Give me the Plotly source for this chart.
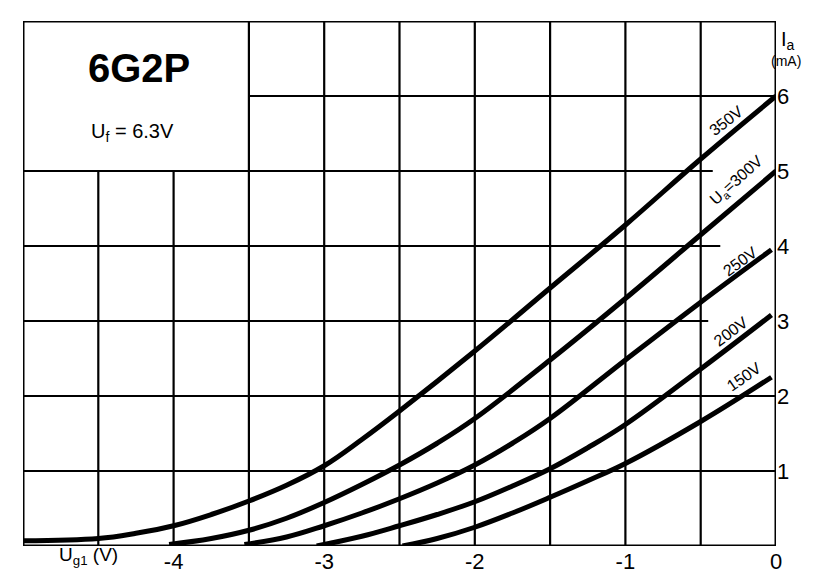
import plotly.graph_objects as go

# Grid voltage (V) and anode current (mA) for each anode voltage
vg_350 = [-5.0, -4.5, -4.25, -4.0, -3.75, -3.5, -3.25, -3.0, -2.75, -2.5, -2.0, -1.5, -1.0, -0.5, 0.0]
ia_350 = [0.07, 0.10, 0.17, 0.27, 0.42, 0.60, 0.81, 1.07, 1.42, 1.80, 2.60, 3.44, 4.28, 5.16, 6.00]

vg_300 = [-4.03, -3.75, -3.5, -3.25, -3.0, -2.75, -2.5, -2.25, -2.0, -1.5, -1.0, -0.5, 0.0]
ia_300 = [0.02, 0.10, 0.21, 0.37, 0.58, 0.82, 1.08, 1.37, 1.70, 2.48, 3.30, 4.15, 5.00]

vg_250 = [-3.53, -3.25, -3.0, -2.75, -2.5, -2.25, -2.0, -1.75, -1.5, -1.0, -0.5, -0.03]
ia_250 = [0.02, 0.12, 0.27, 0.44, 0.63, 0.84, 1.08, 1.37, 1.70, 2.48, 3.25, 3.95]

vg_200 = [-3.05, -2.75, -2.5, -2.25, -2.0, -1.75, -1.5, -1.25, -1.0, -0.5, -0.03]
ia_200 = [0.00, 0.13, 0.27, 0.42, 0.59, 0.80, 1.03, 1.31, 1.62, 2.36, 3.08]

vg_150 = [-2.48, -2.25, -2.0, -1.75, -1.5, -1.25, -1.0, -0.5, -0.03]
ia_150 = [0.00, 0.10, 0.25, 0.44, 0.65, 0.87, 1.10, 1.66, 2.25]

series = [
    ("350V", vg_350, ia_350),
    ("300V", vg_300, ia_300),
    ("250V", vg_250, ia_250),
    ("200V", vg_200, ia_200),
    ("150V", vg_150, ia_150),
]

x_ticks = [-4, -3, -2, -1, 0]
x_tick_text = ["-4", "-3", "-2", "-1", "0"]
y_ticks = [1, 2, 3, 4, 5, 6]
y_tick_text = ["1", "2", "3", "4", "5", "6"]

FONT = "Liberation Sans"
fig = go.Figure()

for name, xs, ys in series:
    fig.add_trace(go.Scatter(x=xs, y=ys, mode="lines", name=name,
                             line=dict(color="black", width=5, shape="spline", smoothing=1.1),
                             showlegend=False, hoverinfo="x+y"))

shapes = []
ln = dict(color="black", width=2.2)
# vertical grid lines
for xv in [-4.5, -4.0]:
    shapes.append(dict(type="line", x0=xv, x1=xv, y0=0, y1=5, line=ln, layer="below"))
for xv in [-3.5, -3.0, -2.5, -2.0, -1.5, -1.0, -0.5]:
    shapes.append(dict(type="line", x0=xv, x1=xv, y0=0, y1=7, line=ln, layer="below"))
# horizontal grid lines
for yv in [1, 2]:
    shapes.append(dict(type="line", x0=-5, x1=0, y0=yv, y1=yv, line=ln, layer="below"))
shapes.append(dict(type="line", x0=-5, x1=-0.45, y0=3, y1=3, line=ln, layer="below"))
shapes.append(dict(type="line", x0=-5, x1=-0.37, y0=4, y1=4, line=ln, layer="below"))
shapes.append(dict(type="line", x0=-5, x1=-0.42, y0=5, y1=5, line=ln, layer="below"))
shapes.append(dict(type="line", x0=-3.5, x1=0, y0=6, y1=6, line=ln, layer="below"))
# frame
shapes.append(dict(type="rect", x0=-5, x1=0, y0=0, y1=7, line=dict(color="black", width=3), layer="below"))

lab = dict(family=FONT, size=16, color="black")
annotations = [
    dict(x=-4.23, y=6.37, text="<b>6G2P</b>", showarrow=False, font=dict(family=FONT, size=40, color="black")),
    dict(x=-4.27, y=5.52, text="U<sub>f</sub> = 6.3V", showarrow=False, font=dict(family=FONT, size=20, color="black")),
    dict(x=-0.33, y=5.68, text="350V", textangle=-38, showarrow=False, font=lab),
    dict(x=-0.26, y=4.88, text="U<sub>a</sub>=300V", textangle=-42, showarrow=False, font=lab),
    dict(x=-0.24, y=3.80, text="250V", textangle=-36, showarrow=False, font=lab),
    dict(x=-0.30, y=2.86, text="200V", textangle=-37, showarrow=False, font=lab),
    dict(x=-0.21, y=2.26, text="150V", textangle=-35, showarrow=False, font=lab),
    dict(xref="paper", yref="paper", x=1.028, y=0.99, text="I<sub>a</sub>", showarrow=False,
         font=dict(family=FONT, size=20, color="black")),
    dict(xref="paper", yref="paper", x=1.036, y=0.942, text="(mA)", showarrow=False,
         font=dict(family=FONT, size=14, color="black")),
    dict(xref="paper", yref="paper", x=0.045, y=-0.045, text="U<sub>g1</sub> (V)", showarrow=False,
         font=dict(family=FONT, size=19, color="black")),
]

fig.update_layout(
    width=823, height=579,
    margin=dict(l=15, r=55, t=13, b=41),
    paper_bgcolor="white", plot_bgcolor="white",
    shapes=shapes, annotations=annotations,
    xaxis=dict(range=[-5, 0], showgrid=False, zeroline=False, showline=False,
               tickvals=x_ticks, ticktext=x_tick_text, ticks="",
               tickfont=dict(family=FONT, size=22, color="black")),
    yaxis=dict(range=[0, 7], showgrid=False, zeroline=False, showline=False, side="right",
               tickvals=y_ticks, ticktext=y_tick_text, ticks="",
               tickfont=dict(family=FONT, size=22, color="black")),
)

fig.write_html("out.html")
